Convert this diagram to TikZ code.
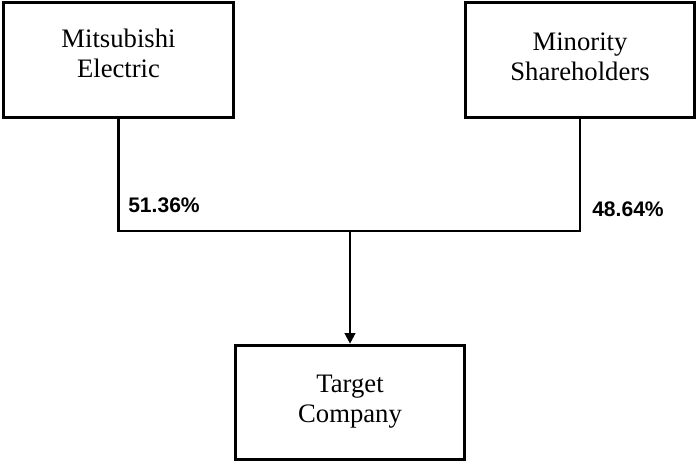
\documentclass[tikz,border=0pt]{standalone}
\usepackage{fontspec}
\setmainfont{Liberation Serif}
\newfontfamily\labelfont{Liberation Sans}
\usetikzlibrary{arrows.meta}
\begin{document}
\begin{tikzpicture}[x=0.75pt,y=-0.75pt,
  entity/.style={draw,line width=2.2pt,minimum width=172pt,minimum height=86pt,inner sep=0pt},
  etext/.style={align=center,inner sep=0pt,font=\fontsize{20}{22.5}\selectfont},
  pct/.style={anchor=west,inner sep=0pt,font=\labelfont\bfseries\fontsize{15.8}{18}\selectfont},
  link/.style={line width=1.6pt}]
\useasboundingbox (0,0) rectangle (696,462);
\node[entity] (me) at (118.5,60) {};
\node[etext] (met) at (118.5,53) {Mitsubishi\\Electric};
\node[entity] (ms) at (580,60) {};
\node[etext] (mst) at (580,56.5) {Minority\\Shareholders};
\node[entity] (tc) at (350,402.5) {};
\node[etext] (tct) at (350,401.5) {Target\\Company};
\coordinate (j) at (350,231);
\draw[link] (me.south) |- (j) -| (ms.south);
\draw[link,-{Triangle[length=8pt,width=8pt]}] (j) -- (tc.north);
\node[pct] (p1) at (128,205) {51.36\%};
\node[pct] (p2) at (592,209.5) {48.64\%};
\end{tikzpicture}
\end{document}
